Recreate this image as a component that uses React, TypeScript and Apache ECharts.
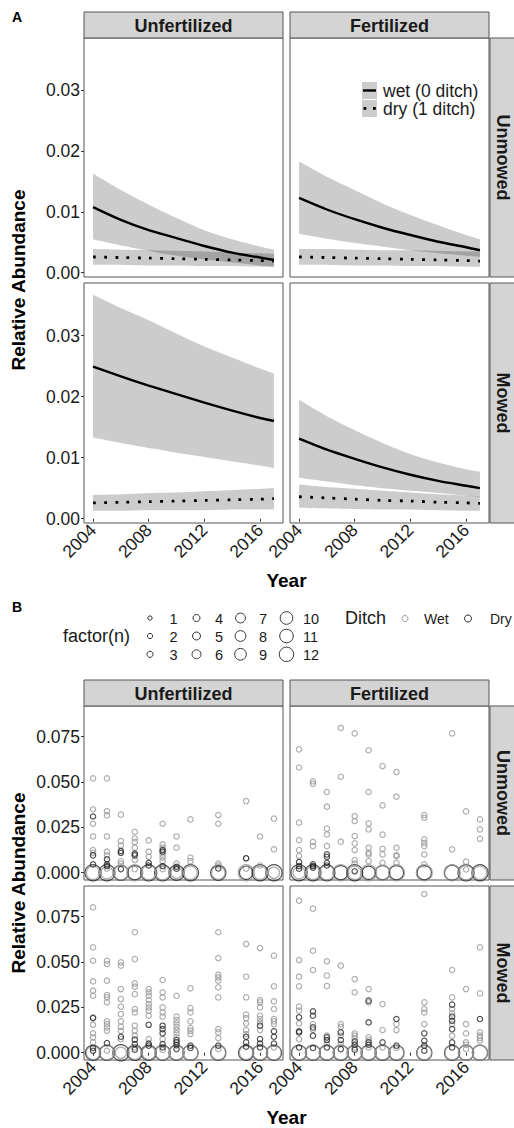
import React, { useEffect, useRef } from "react";
import * as echarts from "echarts";

const FONT = "'Liberation Sans', Arial, Helvetica, sans-serif";

// ---------- Panel A: fitted curves with confidence bands ----------
const fitYears = [2004, 2006, 2008, 2010, 2012, 2014, 2016, 2017];

// Unfertilized / Unmowed
const uuWetFit = [0.0108, 0.0087, 0.007, 0.0057, 0.0044, 0.0033, 0.0025, 0.0021];
const uuWetLo = [0.0055, 0.0045, 0.0036, 0.0028, 0.0022, 0.0017, 0.0012, 0.001];
const uuWetHi = [0.0163, 0.0136, 0.0112, 0.009, 0.007, 0.0055, 0.0043, 0.0038];
const uuDryFit = [0.0026, 0.0025, 0.0024, 0.0023, 0.0022, 0.0021, 0.002, 0.0019];
const uuDryLo = [0.0013, 0.0013, 0.0012, 0.0012, 0.0011, 0.0011, 0.001, 0.001];
const uuDryHi = [0.0039, 0.0038, 0.0037, 0.0036, 0.0035, 0.0033, 0.0032, 0.0031];
// Fertilized / Unmowed
const fuWetFit = [0.0123, 0.0104, 0.0088, 0.0074, 0.0062, 0.0051, 0.0042, 0.0037];
const fuWetLo = [0.0064, 0.0056, 0.0049, 0.0043, 0.0037, 0.0032, 0.0028, 0.0026];
const fuWetHi = [0.0183, 0.0158, 0.0136, 0.0114, 0.0095, 0.0078, 0.0062, 0.0055];
const fuDryFit = [0.0026, 0.0025, 0.0024, 0.0023, 0.0022, 0.0021, 0.002, 0.0019];
const fuDryLo = [0.0013, 0.0013, 0.0012, 0.0012, 0.0011, 0.0011, 0.001, 0.001];
const fuDryHi = [0.0039, 0.0039, 0.0038, 0.0037, 0.0037, 0.0036, 0.0035, 0.0035];
// Unfertilized / Mowed
const umWetFit = [0.0249, 0.0233, 0.0218, 0.0204, 0.019, 0.0177, 0.0165, 0.016];
const umWetLo = [0.0133, 0.0124, 0.0116, 0.0108, 0.0101, 0.0094, 0.0087, 0.0083];
const umWetHi = [0.0367, 0.0345, 0.0325, 0.0303, 0.0282, 0.0264, 0.0246, 0.0238];
const umDryFit = [0.0026, 0.0027, 0.0028, 0.0029, 0.003, 0.0031, 0.0032, 0.0033];
const umDryLo = [0.0013, 0.0013, 0.0014, 0.0014, 0.0014, 0.0015, 0.0015, 0.0015];
const umDryHi = [0.0039, 0.004, 0.0042, 0.0043, 0.0045, 0.0047, 0.0049, 0.005];
// Fertilized / Mowed
const fmWetFit = [0.0131, 0.0113, 0.0098, 0.0084, 0.0072, 0.0062, 0.0054, 0.005];
const fmWetLo = [0.0067, 0.0061, 0.0055, 0.005, 0.0046, 0.0042, 0.0038, 0.0036];
const fmWetHi = [0.0195, 0.0168, 0.0145, 0.0124, 0.0106, 0.0092, 0.0081, 0.0077];
const fmDryFit = [0.0036, 0.0034, 0.0032, 0.003, 0.0029, 0.0027, 0.0026, 0.0025];
const fmDryLo = [0.0018, 0.0017, 0.0016, 0.0015, 0.0015, 0.0014, 0.0013, 0.0013];
const fmDryHi = [0.0056, 0.0052, 0.0049, 0.0046, 0.0043, 0.004, 0.0038, 0.0037];

const aTicksY = [0, 0.01, 0.02, 0.03];
const xTicks = [2004, 2008, 2012, 2016];
const colLabels = ["Unfertilized", "Fertilized"];
const rowLabels = ["Unmowed", "Mowed"];

// ---------- Panel B: observations (year, [values]) ----------
type YearVals = [number, number[]];
const zeroYears = [2004, 2005, 2006, 2007, 2008, 2009, 2010, 2011, 2013, 2015, 2016, 2017];

const bUUWet: YearVals[] = [
  [2004, [0.052, 0.035, 0.027, 0.02, 0.0125, 0.011]],
  [2005, [0.052, 0.034, 0.0316, 0.02, 0.0116, 0.0096, 0.0022]],
  [2006, [0.032, 0.0175, 0.015, 0.0064, 0.005]],
  [2007, [0.0226, 0.019, 0.017, 0.0138, 0.007, 0.002]],
  [2008, [0.0178, 0.0116, 0.0088]],
  [2009, [0.027, 0.0156, 0.0138, 0.01, 0.0083, 0.0064, 0.002]],
  [2010, [0.02, 0.0138, 0.005]],
  [2011, [0.0294, 0.0083, 0.0064]],
  [2013, [0.0318, 0.027, 0.005, 0.004]],
  [2015, [0.0395, 0.0079, 0.0022]],
  [2016, [0.02, 0.004]],
  [2017, [0.0298, 0.0129]],
];
const bUUDry: YearVals[] = [
  [2004, [0.031, 0.0096, 0.0046]],
  [2005, [0.0074, 0.0046, 0.0037]],
  [2006, [0.012, 0.011, 0.002]],
  [2007, [0.0105, 0.0096]],
  [2008, [0.0055, 0.004]],
  [2009, [0.0125, 0.0116, 0.0037]],
  [2010, [0.0033, 0.0022]],
  [2013, [0.0024]],
  [2015, [0.008]],
];
const bUUWetZeroN = [9, 8, 10, 12, 10, 10, 7, 9, 9, 12, 9, 7];
const bUUDryZeroN = [12, 12, 11, 10, 12, 12, 11, 12, 11, 9, 12, 12];

const bFUWet: YearVals[] = [
  [2004, [0.068, 0.058, 0.0276, 0.018, 0.0125, 0.0092]],
  [2005, [0.0504, 0.049, 0.017, 0.0147]],
  [2006, [0.0445, 0.0364, 0.0243, 0.0211, 0.0147]],
  [2007, [0.0798, 0.0529, 0.0171]],
  [2008, [0.0768, 0.0312, 0.0285, 0.0202, 0.0162, 0.0125, 0.007, 0.0051]],
  [2009, [0.0675, 0.0445, 0.0272, 0.0239, 0.0138, 0.011, 0.0101, 0.0064]],
  [2010, [0.0588, 0.0371, 0.021, 0.0132, 0.0101, 0.0055]],
  [2011, [0.0555, 0.0419, 0.0138, 0.0097, 0.0092, 0.0055]],
  [2013, [0.0318, 0.0303, 0.0184, 0.0165, 0.0147, 0.0101, 0.0046]],
  [2015, [0.0768, 0.0129]],
  [2016, [0.0338, 0.0061, 0.0018]],
  [2017, [0.0294, 0.0239, 0.0187]],
];
const bFUDry: YearVals[] = [
  [2004, [0.0059, 0.0037, 0.0022]],
  [2005, [0.0046, 0.0037, 0.0028]],
  [2006, [0.0101, 0.0088, 0.0055, 0.004]],
  [2008, [0.0008]],
];
const bFUWetZeroN = [8, 9, 10, 12, 9, 12, 11, 12, 12, 12, 10, 9];
const bFUDryZeroN = [12, 12, 12, 10, 12, 9, 10, 10, 10, 11, 12, 12];

const bUMWet: YearVals[] = [
  [2004, [0.0801, 0.0581, 0.0507, 0.0393, 0.0342, 0.0314, 0.0195, 0.0154, 0.0107, 0.0085, 0.0057]],
  [2005, [0.0507, 0.0489, 0.0397, 0.0318, 0.0305, 0.0278, 0.0173, 0.0158, 0.014, 0.0121, 0.0011]],
  [2006, [0.0498, 0.048, 0.0351, 0.0296, 0.0254, 0.0213, 0.0173, 0.0143, 0.0121, 0.0075]],
  [2007, [0.0664, 0.0516, 0.0382, 0.0364, 0.0323, 0.0241, 0.0222, 0.0149, 0.0121, 0.0094, 0.0029]],
  [2008, [0.0351, 0.0333, 0.0314, 0.029, 0.0268, 0.025, 0.0232, 0.0204, 0.0075]],
  [2009, [0.0401, 0.0333, 0.0305, 0.025, 0.0222, 0.0199, 0.0075, 0.0015]],
  [2010, [0.0314, 0.0199, 0.018, 0.0162, 0.0143, 0.0125, 0.0107, 0.0085]],
  [2011, [0.0355, 0.0246, 0.0222, 0.0173, 0.0136, 0.0121, 0.0103]],
  [2013, [0.0664, 0.0522, 0.043, 0.0415, 0.0397, 0.036, 0.0305, 0.013, 0.0112, 0.0081, 0.002]],
  [2015, [0.0599, 0.0419, 0.0305, 0.021, 0.0191, 0.0162, 0.0125, 0.0103]],
  [2016, [0.0577, 0.029, 0.0278, 0.025, 0.0204, 0.0186, 0.0167, 0.0125]],
  [2017, [0.0535, 0.0366, 0.0283, 0.0241, 0.0186, 0.0173, 0.0158, 0.0029]],
];
const bUMDry: YearVals[] = [
  [2004, [0.0191, 0.0026, 0.0011]],
  [2005, [0.0053]],
  [2006, [0.0088]],
  [2007, [0.0072, 0.0048, 0.0017]],
  [2008, [0.0154, 0.0051, 0.0039]],
  [2009, [0.0149, 0.013, 0.0107, 0.0048, 0.0029]],
  [2010, [0.007, 0.0057, 0.0042, 0.002]],
  [2011, [0.0039, 0.0026]],
  [2013, [0.0039]],
  [2015, [0.0088, 0.0057, 0.0033]],
  [2016, [0.0149, 0.0075, 0.0051, 0.0029]],
  [2017, [0.0118, 0.0088, 0.0051]],
];
const bUMWetZeroN = [9, 10, 7, 9, 9, 10, 10, 11, 10, 9, 10, 10];
const bUMDryZeroN = [11, 11, 12, 11, 11, 11, 11, 11, 11, 11, 11, 11];

const bFMWet: YearVals[] = [
  [2004, [0.0838, 0.0511, 0.0419, 0.0366, 0.0254, 0.0232, 0.0162, 0.0075]],
  [2005, [0.0794, 0.0562, 0.0456, 0.0158, 0.0127]],
  [2006, [0.0504, 0.0425, 0.0368, 0.0094, 0.0051]],
  [2007, [0.048, 0.0158, 0.0143, 0.0094, 0.0048]],
  [2008, [0.0406, 0.0333, 0.0107, 0.0094, 0.0079, 0.0029]],
  [2009, [0.0351, 0.0278, 0.0085, 0.007, 0.0029]],
  [2010, [0.0268, 0.0125, 0.0029]],
  [2011, [0.0158, 0.0125, 0.0026]],
  [2013, [0.0875, 0.0278, 0.0241, 0.0222, 0.0158]],
  [2015, [0.0456, 0.0305, 0.0241, 0.0217, 0.0158, 0.0094]],
  [2016, [0.0351, 0.0158, 0.0107, 0.0057, 0.0044, 0.002]],
  [2017, [0.0581, 0.0327, 0.0112, 0.0094, 0.0081, 0.0066]],
];
const bFMDry: YearVals[] = [
  [2004, [0.0195, 0.0118, 0.0112, 0.0029]],
  [2005, [0.0228, 0.0204, 0.014, 0.0094, 0.0026]],
  [2006, [0.0085, 0.007, 0.0029]],
  [2007, [0.0112, 0.007, 0.002]],
  [2008, [0.0061, 0.0044, 0.0017]],
  [2009, [0.0287, 0.0167, 0.0057, 0.0044]],
  [2010, [0.0057]],
  [2011, [0.0186, 0.0039]],
  [2013, [0.0107, 0.0066, 0.0039, 0.0011]],
  [2015, [0.0265, 0.0199, 0.0176, 0.013, 0.0057, 0.0029]],
  [2017, [0.0186]],
];
const bFMWetZeroN = [10, 10, 10, 10, 10, 10, 10, 10, 10, 10, 11, 11];
const bFMDryZeroN = [11, 11, 11, 11, 11, 11, 11, 11, 11, 11, 11, 11];

const bTicksY = [0, 0.025, 0.05, 0.075];
const sizeLevels = [1, 2, 3, 4, 5, 6, 7, 8, 9, 10, 11, 12];

// ---------- layout ----------
const colX = [84, 290];
const panelW = 199;
const aRowY = [38, 283];
const aRowH = [239, 240];
const bRowY = [706, 886];
const bRowH = [174, 174];
const stripH = 26;
const X_MIN = 2003.35;
const X_MAX = 2017.65;
const A_MIN = -0.0007;
const A_MAX = 0.0386;
const B_MIN = -0.004;
const B_MAX = 0.0919;

const WET_COL = "#999999";
const DRY_COL = "#262626";
const BAND = "rgba(0,0,0,0.2)";
const symSize = (n: number) => 4.4 + 0.98 * n;
const legSize = (n: number) => 3.4 + 0.92 * n;

// Catmull-Rom spline through pixel points (rendering only)
const spline = (pts: number[][]) => {
  const out: number[][] = [];
  for (let i = 0; i < pts.length - 1; i++) {
    const p0 = pts[Math.max(i - 1, 0)];
    const p1 = pts[i];
    const p2 = pts[i + 1];
    const p3 = pts[Math.min(i + 2, pts.length - 1)];
    for (let s = 0; s < 10; s++) {
      const t = s / 10;
      const t2 = t * t;
      const t3 = t2 * t;
      out.push(
        [0, 1].map(
          (d) =>
            0.5 *
            (2 * p1[d] +
              (-p0[d] + p2[d]) * t +
              (2 * p0[d] - 5 * p1[d] + 4 * p2[d] - p3[d]) * t2 +
              (-p0[d] + 3 * p1[d] - 3 * p2[d] + p3[d]) * t3)
        )
      );
    }
  }
  out.push(pts[pts.length - 1]);
  return out;
};

export default function App() {
  const ref = useRef<HTMLDivElement>(null);

  useEffect(() => {
    document.body.style.margin = "0";
    const chart = echarts.init(ref.current!, null, { renderer: "svg" });

    const grids: any[] = [];
    const xAxes: any[] = [];
    const yAxes: any[] = [];
    const series: any[] = [];
    const graphic: any[] = [];

    const addPanel = (
      left: number,
      top: number,
      h: number,
      showX: boolean,
      showY: boolean,
      yMin: number,
      yMax: number,
      yTicks: number[],
      digits: number
    ) => {
      grids.push({
        left,
        top,
        width: panelW,
        height: h,
        show: true,
        backgroundColor: "#fff",
        borderColor: "#555",
        borderWidth: 1,
      });
      const gi = grids.length - 1;
      xAxes.push({
        type: "value",
        gridIndex: gi,
        min: X_MIN,
        max: X_MAX,
        axisLine: { show: false },
        splitLine: { show: false },
        axisTick: {
          show: showX,
          length: 3,
          lineStyle: { color: "#333" },
          customValues: xTicks,
        },
        axisLabel: {
          show: showX,
          rotate: 45,
          margin: 4,
          fontSize: 17.5,
          color: "#1a1a1a",
          fontFamily: FONT,
          customValues: xTicks,
          formatter: (v: number) => String(v),
        },
      });
      yAxes.push({
        type: "value",
        gridIndex: gi,
        min: yMin,
        max: yMax,
        axisLine: { show: false },
        splitLine: { show: false },
        axisTick: {
          show: showY,
          length: 3,
          lineStyle: { color: "#333" },
          customValues: yTicks,
        },
        axisLabel: {
          show: showY,
          margin: 4,
          fontSize: 17.5,
          color: "#1a1a1a",
          fontFamily: FONT,
          customValues: yTicks,
          formatter: (v: number) => v.toFixed(digits),
        },
      });
      return gi;
    };

    // ----- Panel A -----
    const aPanels = [
      [uuWetFit, uuWetLo, uuWetHi, uuDryFit, uuDryLo, uuDryHi],
      [fuWetFit, fuWetLo, fuWetHi, fuDryFit, fuDryLo, fuDryHi],
      [umWetFit, umWetLo, umWetHi, umDryFit, umDryLo, umDryHi],
      [fmWetFit, fmWetLo, fmWetHi, fmDryFit, fmDryLo, fmDryHi],
    ];
    aPanels.forEach((p, i) => {
      const r = Math.floor(i / 2);
      const c = i % 2;
      const gi = addPanel(colX[c], aRowY[r], aRowH[r], r === 1, c === 0, A_MIN, A_MAX, aTicksY, 2);
      const [wf, wl, wh, df, dl, dh] = p;
      const band = (lo: number[], hi: number[]) => {
        series.push({
          type: "custom",
          xAxisIndex: gi,
          yAxisIndex: gi,
          silent: true,
          clip: true,
          data: fitYears.map((y, k) => [y, lo[k], hi[k]]),
          encode: { x: 0, y: [1, 2] },
          renderItem: (params: any, api: any) => {
            if (params.dataIndex !== 0) return null;
            const up = fitYears.map((y, k) => api.coord([y, hi[k]]));
            const dn = fitYears.map((y, k) => api.coord([y, lo[k]]));
            const pts = spline(up).concat(spline(dn).reverse());
            return { type: "polygon", shape: { points: pts }, style: { fill: BAND } };
          },
        });
      };
      band(wl, wh);
      band(dl, dh);
      const base = { type: "line", xAxisIndex: gi, yAxisIndex: gi, showSymbol: false, symbol: "none", silent: true, smooth: 0.3 };
      series.push({
        ...base,
        data: fitYears.map((y, k) => [y, wf[k]]),
        lineStyle: { color: "#000", width: 2.4 },
      });
      series.push({
        ...base,
        data: fitYears.map((y, k) => [y, df[k]]),
        lineStyle: { color: "#000", width: 2.8, type: [2.8, 8.4], cap: "butt" },
      });
    });

    // ----- Panel B -----
    const expand = (rows: YearVals[]) => rows.flatMap(([y, vs]) => vs.map((v) => [y, v, 1]));
    const zeros = (ns: number[]) => zeroYears.map((y, k) => [y, 0, ns[k]]);
    const bPanels: [YearVals[], YearVals[], number[], number[]][] = [
      [bUUWet, bUUDry, bUUWetZeroN, bUUDryZeroN],
      [bFUWet, bFUDry, bFUWetZeroN, bFUDryZeroN],
      [bUMWet, bUMDry, bUMWetZeroN, bUMDryZeroN],
      [bFMWet, bFMDry, bFMWetZeroN, bFMDryZeroN],
    ];
    bPanels.forEach((p, i) => {
      const r = Math.floor(i / 2);
      const c = i % 2;
      const gi = addPanel(colX[c], bRowY[r], bRowH[r], r === 1, c === 0, B_MIN, B_MAX, bTicksY, 3);
      const [wet, dry, wz, dz] = p;
      const sc = (data: any[], col: string) => ({
        type: "scatter",
        xAxisIndex: gi,
        yAxisIndex: gi,
        silent: true,
        symbol: "circle",
        symbolSize: (v: number[]) => symSize(v[2]),
        itemStyle: { color: "rgba(0,0,0,0)", borderColor: col, borderWidth: 1.2 },
        data,
      });
      series.push(sc(zeros(dz), DRY_COL));
      series.push(sc(zeros(wz), WET_COL));
      series.push(sc(expand(wet), WET_COL));
      series.push(sc(expand(dry), DRY_COL));
    });

    // ----- strips -----
    const stripStyle = { fill: "#d4d4d4", stroke: "#555", lineWidth: 1 };
    const stripText = (x: number, y: number, text: string, rot = 0) => ({
      type: "text",
      x,
      y,
      rotation: rot,
      silent: true,
      style: {
        text,
        fontSize: 18,
        fontWeight: "bold",
        fontFamily: FONT,
        fill: "#1a1a1a",
        textAlign: "center",
        textVerticalAlign: "middle",
      },
    });
    const addStrips = (rowY: number[], rowH: number[]) => {
      colX.forEach((x, c) => {
        graphic.push({ type: "rect", silent: true, shape: { x, y: rowY[0] - stripH, width: panelW, height: stripH }, style: stripStyle });
        graphic.push(stripText(x + panelW / 2, rowY[0] - stripH / 2 + 0.5, colLabels[c]));
      });
      rowY.forEach((y, r) => {
        graphic.push({ type: "rect", silent: true, shape: { x: 490, y, width: 30, height: rowH[r] }, style: stripStyle });
        graphic.push(stripText(503, y + rowH[r] / 2, rowLabels[r], -Math.PI / 2));
      });
    };
    addStrips(aRowY, aRowH);
    addStrips(bRowY, bRowH);

    const txt = (x: number, y: number, text: string, size: number, opts: any = {}) => ({
      type: "text",
      x,
      y,
      rotation: opts.rotation || 0,
      silent: true,
      style: {
        text,
        fontSize: size,
        fontWeight: opts.bold ? "bold" : "normal",
        fontFamily: FONT,
        fill: opts.fill || "#1a1a1a",
        textAlign: opts.align || "left",
        textVerticalAlign: "middle",
      },
    });

    // panel letters and axis titles
    graphic.push(txt(12, 17, "A", 14, { bold: true, fill: "#000" }));
    graphic.push(txt(12, 607, "B", 14, { bold: true, fill: "#000" }));
    graphic.push(txt(18, 280, "Relative Abundance", 19, { bold: true, align: "center", rotation: Math.PI / 2, fill: "#000" }));
    graphic.push(txt(18, 883, "Relative Abundance", 19, { bold: true, align: "center", rotation: Math.PI / 2, fill: "#000" }));
    graphic.push(txt(286.5, 580, "Year", 19, { bold: true, align: "center", fill: "#000" }));
    graphic.push(txt(286.5, 1117, "Year", 19, { bold: true, align: "center", fill: "#000" }));

    // Panel A legend
    graphic.push({ type: "rect", silent: true, shape: { x: 362, y: 82, width: 15, height: 17 }, style: { fill: "#cccccc" } });
    graphic.push({ type: "rect", silent: true, shape: { x: 362, y: 100, width: 15, height: 17 }, style: { fill: "#cccccc" } });
    graphic.push({ type: "line", silent: true, shape: { x1: 363, y1: 90.5, x2: 376, y2: 90.5 }, style: { stroke: "#000", lineWidth: 2.4 } });
    graphic.push({ type: "rect", silent: true, shape: { x: 363.5, y: 107, width: 2.8, height: 2.8 }, style: { fill: "#000" } });
    graphic.push({ type: "rect", silent: true, shape: { x: 373, y: 107, width: 2.8, height: 2.8 }, style: { fill: "#000" } });
    graphic.push(txt(383, 91, "wet (0 ditch)", 17.5));
    graphic.push(txt(383, 109, "dry (1 ditch)", 17.5));

    // Panel B legends
    graphic.push(txt(63, 636, "factor(n)", 18));
    const legCx = [150, 196.5, 240.5, 286.5];
    const legTx = [169.5, 215, 259, 303];
    const legY = [618, 636, 654.3];
    sizeLevels.forEach((n, k) => {
      const c = Math.floor(k / 3);
      const r = k % 3;
      graphic.push({
        type: "circle",
        silent: true,
        shape: { cx: legCx[c], cy: legY[r], r: legSize(n) / 2 },
        style: { fill: "none", stroke: "#333", lineWidth: 1 },
      });
      graphic.push(txt(legTx[c], legY[r] + 0.5, String(n), 14.5));
    });
    graphic.push(txt(345, 618, "Ditch", 18));
    graphic.push({ type: "circle", silent: true, shape: { cx: 405, cy: 618.5, r: 3 }, style: { fill: "none", stroke: WET_COL, lineWidth: 1 } });
    graphic.push(txt(424, 618.5, "Wet", 14));
    graphic.push({ type: "circle", silent: true, shape: { cx: 468, cy: 618.5, r: 3.5 }, style: { fill: "none", stroke: DRY_COL, lineWidth: 1 } });
    graphic.push(txt(490, 618.5, "Dry", 14));

    chart.setOption({
      animation: false,
      backgroundColor: "#fff",
      textStyle: { fontFamily: FONT },
      grid: grids,
      xAxis: xAxes,
      yAxis: yAxes,
      series,
      graphic,
    });

    return () => chart.dispose();
  }, []);

  return <div ref={ref} style={{ width: 514, height: 1128 }} />;
}
